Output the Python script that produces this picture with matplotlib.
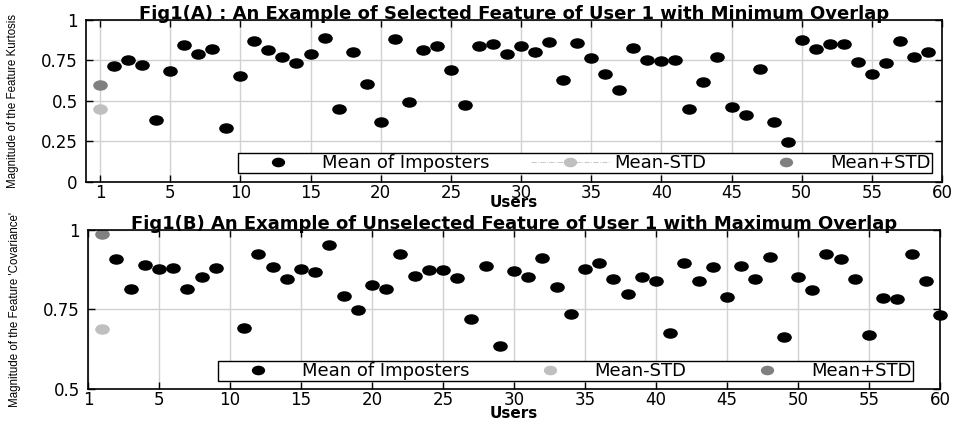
import numpy as np
import matplotlib
matplotlib.use('Agg')
import matplotlib.pyplot as plt
from matplotlib.path import Path
from matplotlib.transforms import Affine2D

# Fig1(A): kurtosis, imposters at users 1..59, user-1 stats at x=0
kurt_users = np.arange(1, 60)
kurt_mean = [0.714, 0.752, 0.725, 0.383, 0.688, 0.843, 0.791, 0.818, 0.332, 0.655,
             0.868, 0.812, 0.770, 0.735, 0.791, 0.886, 0.450, 0.804, 0.607, 0.369,
             0.880, 0.491, 0.812, 0.841, 0.694, 0.478, 0.841, 0.853, 0.787, 0.841,
             0.804, 0.863, 0.630, 0.857, 0.768, 0.665, 0.570, 0.826, 0.752, 0.748,
             0.752, 0.453, 0.619, 0.770, 0.462, 0.414, 0.700, 0.373, 0.245, 0.876,
             0.822, 0.849, 0.853, 0.742, 0.667, 0.733, 0.870, 0.770, 0.804]
kurt_std_x = 0
kurt_minus = 0.45
kurt_plus = 0.60

# Fig1(B): covariance, imposters at users 2..60 (user 10 not shown), user-1 stats at x=1
cov_users = np.arange(2, 61)
cov_mean = [0.908, 0.815, 0.891, 0.878, 0.881, 0.815, 0.851, 0.881, np.nan, 0.693,
            0.923, 0.884, 0.845, 0.878, 0.867, 0.952, 0.792, 0.749, 0.828, 0.813,
            0.923, 0.854, 0.875, 0.875, 0.849, 0.720, 0.887, 0.634, 0.872, 0.851,
            0.913, 0.821, 0.735, 0.878, 0.896, 0.845, 0.800, 0.851, 0.839, 0.675,
            0.896, 0.839, 0.884, 0.789, 0.887, 0.845, 0.916, 0.664, 0.851, 0.810,
            0.923, 0.910, 0.845, 0.669, 0.785, 0.783, 0.923, 0.839, 0.733]
cov_std_x = 1
cov_minus = 0.688
cov_plus = 0.986

xtick_pos = [0, 5, 10, 15, 20, 25, 30, 35, 40, 45, 50, 55, 60]
xtick_lab = ['1', '5', '10', '15', '20', '25', '30', '35', '40', '45', '50', '55', '60']

light = (0.75, 0.75, 0.75)
dark = (0.5, 0.5, 0.5)

# wide ellipse marker like the squashed original
ell = Path.unit_circle().transformed(Affine2D().scale(1.45, 1.0))

plt.rcParams['font.family'] = 'DejaVu Sans'

fig = plt.figure(figsize=(9.62, 4.26), dpi=100)
ax1 = fig.add_axes([0.0894, 0.5728, 0.8898, 0.3803])
ax2 = fig.add_axes([0.0915, 0.0869, 0.8857, 0.3732])


def style(ax, ylab, xpad):
    ax.grid(True, color=(0.82, 0.82, 0.82), linewidth=1.0)
    ax.set_axisbelow(True)
    ax.set_xticks(xtick_pos)
    ax.set_xticklabels(xtick_lab)
    ax.tick_params(direction='in', top=True, right=True, length=5, width=1,
                   labelsize=12)
    ax.tick_params(axis='x', pad=1.5)
    ax.tick_params(axis='y', pad=6)
    for s in ax.spines.values():
        s.set_linewidth(1.2)
    ax.set_xlabel('Users', fontsize=11, fontweight='bold', labelpad=xpad)
    ax.set_ylabel(ylab, fontsize=8.3, family='Liberation Sans', fontstretch='condensed',
                  labelpad=16)


def legend(ax, anchor):
    ax.legend(loc='lower left', bbox_to_anchor=anchor, mode='expand',
              ncol=3, borderaxespad=0, fancybox=False, edgecolor='black', framealpha=1,
              fontsize=13, handlelength=4.3, handletextpad=0.3, borderpad=0.05,
              markerscale=0.9)


# top panel
ax1.plot(kurt_users, kurt_mean, linestyle='none', marker=ell, markersize=9.5,
         color='black', label='Mean of Imposters')
ax1.plot([kurt_std_x], [kurt_minus], linestyle='-.', linewidth=0.6, marker=ell,
         markersize=9.5, color=light, label='Mean-STD')
ax1.plot([kurt_std_x], [kurt_plus], linestyle='none', marker=ell, markersize=9.5,
         color=dark, label='Mean+STD')
ax1.set_xlim(-1, 60)
ax1.set_ylim(0, 1)
ax1.set_yticks([0, 0.25, 0.5, 0.75, 1])
ax1.set_yticklabels(['0', '0.25', '0.5', '0.75', '1'])
style(ax1, 'Magnitude of the Feature Kurtosis', -5)
ax1.set_title('Fig1(A) : An Example of Selected Feature of User 1 with Minimum Overlap',
              fontsize=13, fontweight='bold', pad=1)
legend(ax1, (0.178, 0.056, 0.81, 0.13))

# bottom panel
ax2.plot(cov_users, cov_mean, linestyle='none', marker=ell, markersize=9.5,
         color='black', label='Mean of Imposters', clip_on=False)
ax2.plot([cov_std_x], [cov_minus], linestyle='none', marker=ell, markersize=9.5,
         color=light, label='Mean-STD')
ax2.plot([cov_std_x], [cov_plus], linestyle='none', marker=ell, markersize=9.5,
         color=dark, label='Mean+STD')
ax2.set_xlim(0, 60)
ax2.set_ylim(0.5, 1)
ax2.set_yticks([0.5, 0.75, 1])
ax2.set_yticklabels(['0.5', '0.75', '1'])
style(ax2, "Magnitude of the Feature 'Covariance'", -2)
ax2.set_title('Fig1(B) An Example of Unselected Feature of User 1 with Maximum Overlap',
              fontsize=13, fontweight='bold', pad=0.5)
legend(ax2, (0.153, 0.05, 0.815, 0.14))

fig.savefig('out.png', dpi=100)
